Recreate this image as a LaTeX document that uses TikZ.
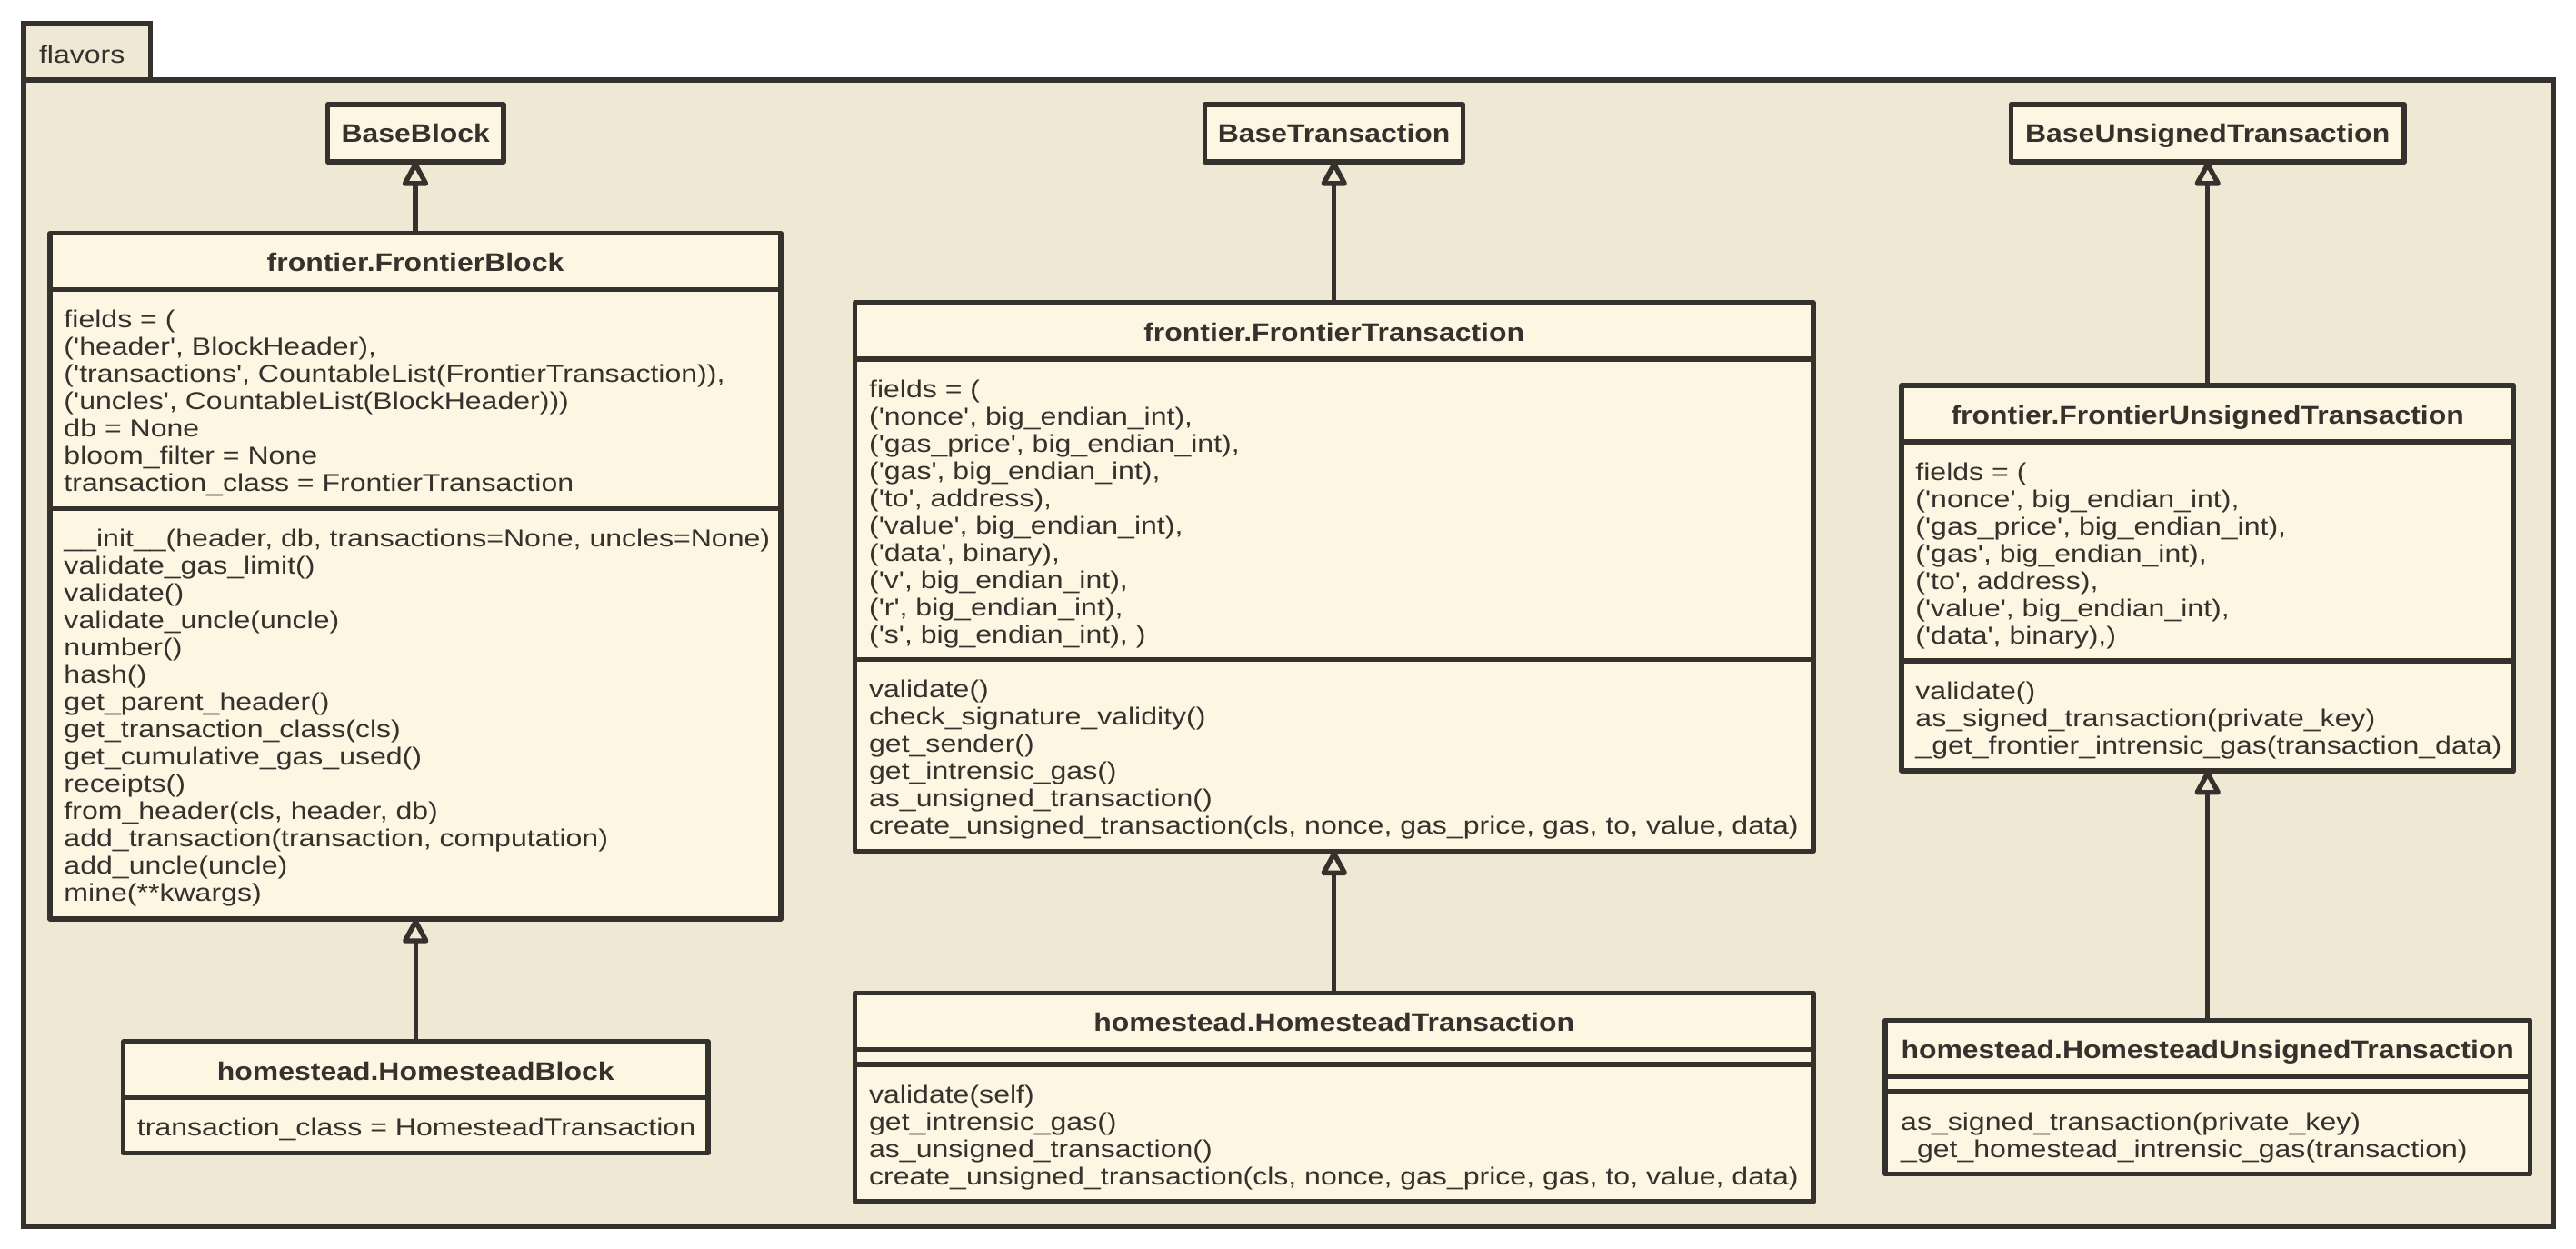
\documentclass[tikz,border=0pt]{standalone}
\usepackage{fontspec}
\setmainfont{Liberation Sans}[Ligatures=TeXOff]
\newfontfamily\memberfont{Liberation Sans}[FakeStretch=1.19, Ligatures=TeXOff]
\newfontfamily\titlefont{Liberation Sans}[FakeStretch=1.14, Ligatures=TeXOff]
\usetikzlibrary{arrows.meta}

\definecolor{ink}{HTML}{35322D}
\definecolor{pkgbg}{HTML}{EEE8D5}
\definecolor{classbg}{HTML}{FDF6E3}

% stacked member lines, first baseline is the box baseline
\newcommand\memberlines[1]{\vtop{\baselineskip=16.6pt\lineskiplimit=-100pt\lineskip=0pt #1}}
\newcommand\ml[1]{\hbox{#1}}
% class box: name, left, top, width, height
\newcommand\umlbox[5]{\node[classbox, minimum width=#4pt, minimum height=#5pt] (#1) at (#2,-#3) {};}
% compartment separator: box name, distance below the top
\newcommand\umlsep[2]{\draw[sepline] ([yshift=-#2pt]#1.north west) -- ([yshift=-#2pt]#1.north east);}

\tikzset{
  x=1pt, y=1pt,
  classbox/.style={rectangle, draw=ink, fill=classbg, line width=3pt, line join=round,
    inner sep=0pt, outer sep=0pt, anchor=north west},
  sepline/.style={draw=ink, line width=3pt},
  classtitle/.style={text=ink, inner sep=0pt, outer sep=0pt, anchor=base,
    font=\titlefont\bfseries\fontsize{15.5}{18}\selectfont},
  members/.style={text=ink, inner sep=0pt, outer sep=0pt, anchor=base west,
    font=\memberfont\fontsize{14.9}{16.6}\selectfont},
  inherit/.style={draw=ink, line width=3pt,
    -{Triangle[length=16.5pt 0, width=17pt 0, fill=pkgbg, line join=round]}},
}

\begin{document}
\begin{tikzpicture}
\useasboundingbox (0,0) rectangle (1568,-760);

% package frame with its tab
\node[rectangle, draw=ink, fill=pkgbg, line width=3pt, inner sep=0pt, outer sep=0pt,
  anchor=north west, minimum width=1540.2pt, minimum height=697.5pt] (pkg) at (14.3,-48.8) {};
\node[rectangle, draw=ink, fill=pkgbg, line width=3pt, inner sep=0pt, outer sep=0pt,
  anchor=north west, minimum width=77.2pt, minimum height=34.4pt] (pkgtab) at (14.3,-14.4) {};
\node[members, font=\memberfont\fontsize{14.9}{16.6}\selectfont] (pkgname) at (23.8,-38.2) {flavors};

% ---------- block column ----------
\umlbox{baseblock}{199.5}{63.6}{107}{34.9}
\node[classtitle] (baseblock-t) at (253,-86.8) {BaseBlock};

\umlbox{fblock}{30.5}{142}{444.7}{417.4}
\umlsep{fblock}{34.3}
\umlsep{fblock}{167.6}
\node[classtitle] (fblock-t) at (252.85,-165.4) {frontier.FrontierBlock};
\node[members] (fblock-a) at (39,-199.6) {\memberlines{%
  \ml{fields = (}
  \ml{('header', BlockHeader),}
  \ml{('transactions', CountableList(FrontierTransaction)),}
  \ml{('uncles', CountableList(BlockHeader)))}
  \ml{db = None}
  \ml{bloom\_filter = None}
  \ml{transaction\_class = FrontierTransaction}}};
\node[members] (fblock-o) at (39,-332.9) {\memberlines{%
  \ml{\_\_init\_\_(header, db, transactions=None, uncles=None)}
  \ml{validate\_gas\_limit()}
  \ml{validate()}
  \ml{validate\_uncle(uncle)}
  \ml{number()}
  \ml{hash()}
  \ml{get\_parent\_header()}
  \ml{get\_transaction\_class(cls)}
  \ml{get\_cumulative\_gas\_used()}
  \ml{receipts()}
  \ml{from\_header(cls, header, db)}
  \ml{add\_transaction(transaction, computation)}
  \ml{add\_uncle(uncle)}
  \ml{mine(**kwargs)}}};

\umlbox{hblock}{75}{634}{356}{67.8}
\umlsep{hblock}{34.2}
\node[classtitle] (hblock-t) at (253,-657.4) {homestead.HomesteadBlock};
\node[members] (hblock-a) at (83.5,-691.5) {\memberlines{%
  \ml{transaction\_class = HomesteadTransaction}}};

% ---------- transaction column ----------
\umlbox{basetx}{733.5}{63.6}{157}{34.9}
\node[classtitle] (basetx-t) at (812,-86.8) {BaseTransaction};

\umlbox{ftx}{520.3}{184.2}{583.5}{333.9}
\umlsep{ftx}{34.3}
\umlsep{ftx}{217.3}
\node[classtitle] (ftx-t) at (812.05,-207.6) {frontier.FrontierTransaction};
\node[members] (ftx-a) at (529,-241.8) {\memberlines{%
  \ml{fields = (}
  \ml{('nonce', big\_endian\_int),}
  \ml{('gas\_price', big\_endian\_int),}
  \ml{('gas', big\_endian\_int),}
  \ml{('to', address),}
  \ml{('value', big\_endian\_int),}
  \ml{('data', binary),}
  \ml{('v', big\_endian\_int),}
  \ml{('r', big\_endian\_int),}
  \ml{('s', big\_endian\_int), )}}};
\node[members] (ftx-o) at (529,-424.8) {\memberlines{%
  \ml{validate()}
  \ml{check\_signature\_validity()}
  \ml{get\_sender()}
  \ml{get\_intrensic\_gas()}
  \ml{as\_unsigned\_transaction()}
  \ml{create\_unsigned\_transaction(cls, nonce, gas\_price, gas, to, value, data)}}};

\umlbox{htx}{520.3}{604.4}{583.5}{127}
\umlsep{htx}{34.3}
\umlsep{htx}{43.6}
\node[classtitle] (htx-t) at (812.05,-627.8) {homestead.HomesteadTransaction};
\node[members] (htx-o) at (529,-671.3) {\memberlines{%
  \ml{validate(self)}
  \ml{get\_intrensic\_gas()}
  \ml{as\_unsigned\_transaction()}
  \ml{create\_unsigned\_transaction(cls, nonce, gas\_price, gas, to, value, data)}}};

% ---------- unsigned transaction column ----------
\umlbox{baseutx}{1224}{63.6}{239.5}{34.9}
\node[classtitle] (baseutx-t) at (1343.75,-86.8) {BaseUnsignedTransaction};

\umlbox{futx}{1157.5}{234.7}{372.5}{234.4}
\umlsep{futx}{34.3}
\umlsep{futx}{167.6}
\node[classtitle] (futx-t) at (1343.75,-258.1) {frontier.FrontierUnsignedTransaction};
\node[members] (futx-a) at (1166,-292.3) {\memberlines{%
  \ml{fields = (}
  \ml{('nonce', big\_endian\_int),}
  \ml{('gas\_price', big\_endian\_int),}
  \ml{('gas', big\_endian\_int),}
  \ml{('to', address),}
  \ml{('value', big\_endian\_int),}
  \ml{('data', binary),)}}};
\node[members] (futx-o) at (1166,-425.6) {\memberlines{%
  \ml{validate()}
  \ml{as\_signed\_transaction(private\_key)}
  \ml{\_get\_frontier\_intrensic\_gas(transaction\_data)}}};

\umlbox{hutx}{1147.6}{621}{392.3}{93.7}
\umlsep{hutx}{34.3}
\umlsep{hutx}{43.5}
\node[classtitle] (hutx-t) at (1343.75,-644.4) {homestead.HomesteadUnsignedTransaction};
\node[members] (hutx-o) at (1157,-687.8) {\memberlines{%
  \ml{as\_signed\_transaction(private\_key)}
  \ml{\_get\_homestead\_intrensic\_gas(transaction)}}};

% ---------- inheritance ----------
\draw[inherit] (fblock.north) -- (fblock.north |- baseblock.south);
\draw[inherit] (hblock.north) -- (hblock.north |- fblock.south);
\draw[inherit] (ftx.north) -- (ftx.north |- basetx.south);
\draw[inherit] (htx.north) -- (htx.north |- ftx.south);
\draw[inherit] (futx.north) -- (futx.north |- baseutx.south);
\draw[inherit] (hutx.north) -- (hutx.north |- futx.south);
\end{tikzpicture}
\end{document}
